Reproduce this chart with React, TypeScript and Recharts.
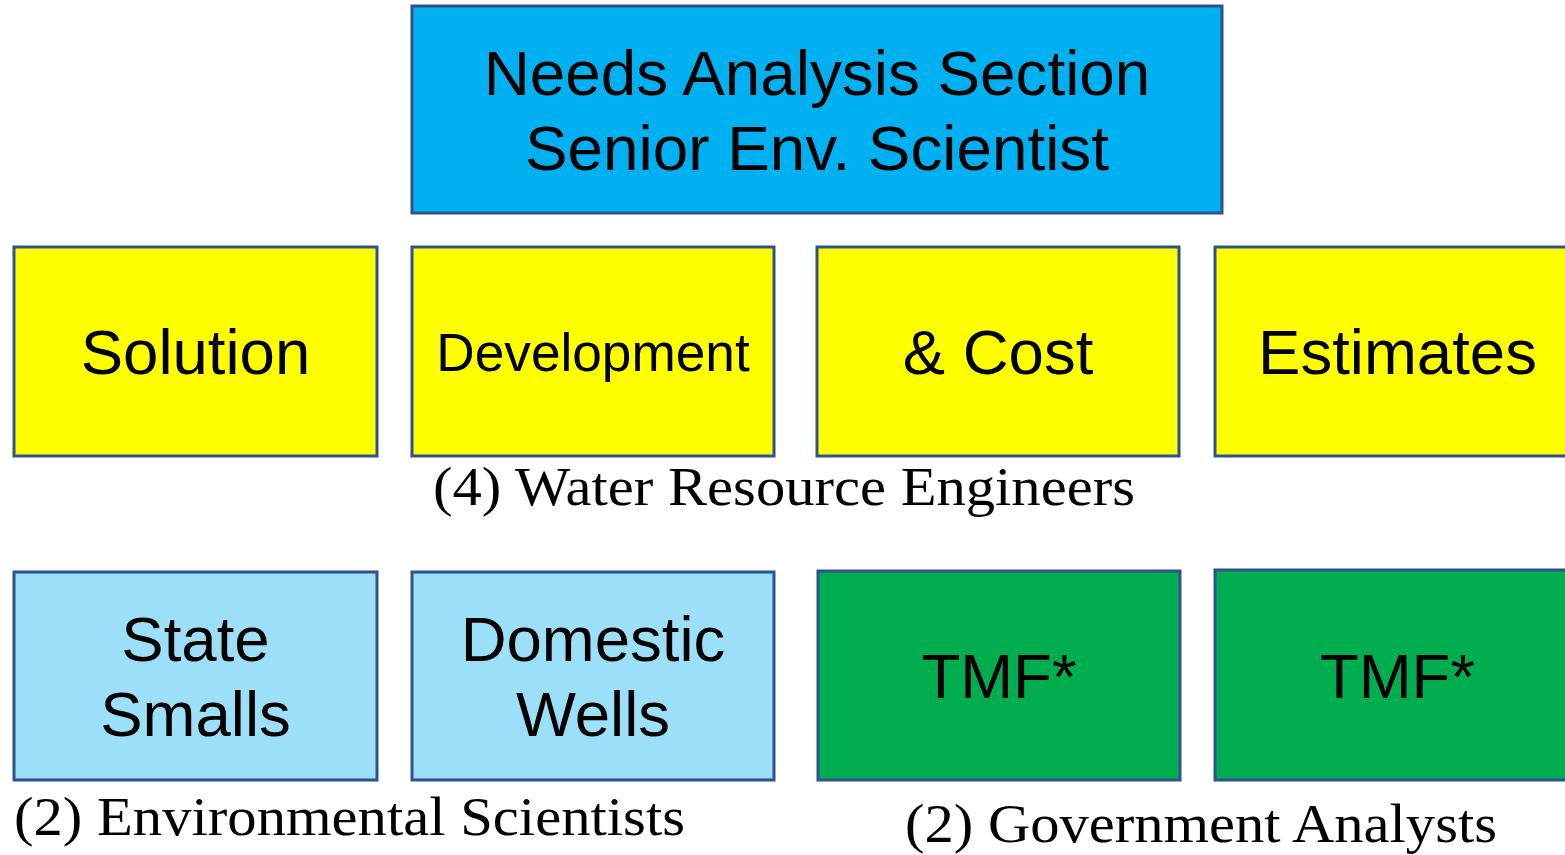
import React from 'react';
import { ComposedChart, XAxis, YAxis, ReferenceArea, Scatter } from 'recharts';

// ---- content ----
const boxLabels: string[][] = [
  ['Needs Analysis Section', 'Senior Env. Scientist'],
  ['Solution'],
  ['Development'],
  ['& Cost'],
  ['Estimates'],
  ['State', 'Smalls'],
  ['Domestic', 'Wells'],
  ['TMF*'],
  ['TMF*'],
];
const boxGroups = ['lead', 'engineer', 'engineer', 'engineer', 'engineer', 'env', 'env', 'gov', 'gov'];
const captionTexts = ['(4) Water Resource Engineers', '(2) Environmental Scientists', '(2) Government Analysts'];

// ---- layout (pixel-domain coordinates used through the chart's scales) ----
const boxX1 = [412, 14, 412, 817, 1215, 14, 412, 818, 1215];
const boxX2 = [1222, 377, 774, 1179, 1580, 377, 774, 1180, 1580];
const boxY1 = [6, 247, 247, 247, 247, 572, 572, 571, 570];
const boxY2 = [213, 456, 456, 456, 456, 780, 780, 780, 780];
const boxFont = [63.8, 63.5, 53.2, 63.5, 63.5, 63.5, 63.5, 63.5, 63.5];
const captionX = [784, 349.5, 1201];
const captionY = [505, 835, 842];
const captionLen = [702, 671, 592];

const groupFill: Record<string, string> = {
  lead: '#00B0F0',
  engineer: '#FFFF00',
  env: '#9BDFF8',
  gov: '#00AE50',
};

const W = 1565;
const H = 855;

const captionData = captionTexts.map((t, i) => ({ x: captionX[i], y: captionY[i], text: t, len: captionLen[i] }));

const makeLabel = (lines: string[], fontSize: number) => (props: any) => {
  const vb = props.viewBox || {};
  const cx = vb.x + vb.width / 2;
  const cy = vb.y + vb.height / 2;
  const lh = 75.5;
  const first = cy - ((lines.length - 1) * lh) / 2 + fontSize * 0.358;
  return (
    <text
      textAnchor="middle"
      fontFamily="'Liberation Sans', Arial, sans-serif"
      fontSize={fontSize}
      fill="#000"
    >
      {lines.map((l, i) => (
        <tspan key={i} x={cx} y={first + i * lh}>
          {l}
        </tspan>
      ))}
    </text>
  );
};

const CaptionShape = (props: any) => {
  const { cx, cy, payload } = props;
  return (
    <text
      x={cx}
      y={cy}
      textAnchor="middle"
      fontFamily="'Liberation Serif', 'Times New Roman', serif"
      fontSize={54}
      fill="#000"
      textLength={payload.len}
      lengthAdjust="spacingAndGlyphs"
    >
      {payload.text}
    </text>
  );
};

export default function App() {
  return (
    <div style={{ position: 'absolute', left: 0, top: 0, width: W, height: H, background: '#fff' }}>
      <ComposedChart width={W} height={H} margin={{ top: 0, right: 0, bottom: 0, left: 0 }}>
        <XAxis type="number" dataKey="x" domain={[0, W]} hide allowDataOverflow />
        <YAxis type="number" dataKey="y" domain={[0, H]} reversed hide width={0} allowDataOverflow />
        {boxLabels.map((lines, i) => (
          <ReferenceArea
            key={i}
            x1={boxX1[i]}
            x2={boxX2[i]}
            y1={boxY1[i]}
            y2={boxY2[i]}
            ifOverflow="visible"
            fill={groupFill[boxGroups[i]]}
            fillOpacity={1}
            stroke="#2F528F"
            strokeWidth={3}
            label={makeLabel(lines, boxFont[i])}
          />
        ))}
        <Scatter data={captionData} dataKey="y" shape={<CaptionShape />} isAnimationActive={false} />
      </ComposedChart>
    </div>
  );
}
